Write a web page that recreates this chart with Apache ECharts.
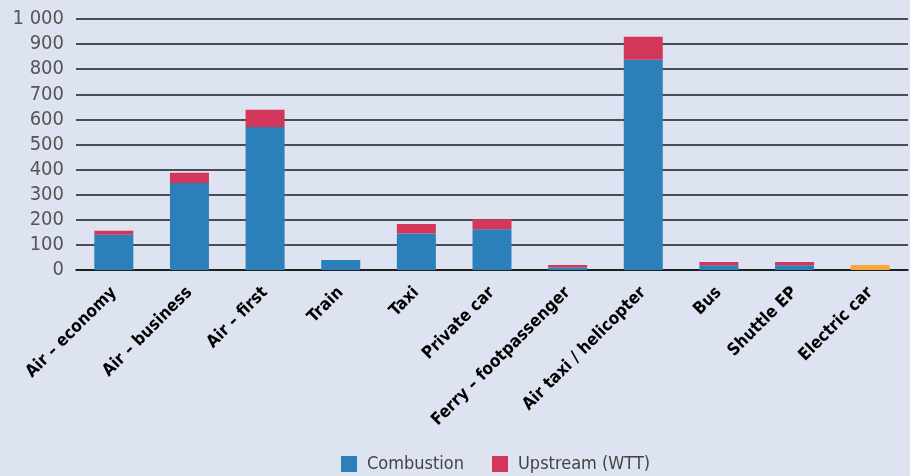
<!DOCTYPE html>
<html>
<head>
<meta charset="utf-8">
<script src="https://cdn.jsdelivr.net/npm/echarts@6/dist/echarts.min.js"></script>
<style>
  html, body { margin: 0; padding: 0; background: #dde3f0; }
  #mountNode { width: 910px; height: 476px; }
</style>
</head>
<body>
<div id="mountNode"></div>
<script>
// values
var categories = ['Air – economy', 'Air – business', 'Air – first', 'Train', 'Taxi', 'Private car',
  'Ferry – footpassenger', 'Air taxi / helicopter', 'Bus', 'Shuttle EP', 'Electric car'];
var combustion = [140, 347, 570, 40, 145, 162, 10, 838, 19, 19, 20];
var upstream = [16, 40, 68, 0, 38, 40, 10, 91, 13, 13, 0];
var seriesNames = ['Combustion', 'Upstream (WTT)'];
var yTicks = { min: 0, max: 1000, interval: 100 };

var BLUE = '#2c80b9', RED = '#d4365a', ORANGE = '#f5a836';

// electric car gets its own colour
var combustionData = combustion.map(function (v, i) {
  if (categories[i] === 'Electric car') {
    return { value: v, itemStyle: { color: ORANGE } };
  }
  return v;
});

var option = {
  backgroundColor: '#dde3f0',
  animation: false,
  grid: { left: 76, right: 2, top: 19, bottom: 206 },
  legend: {
    top: 450,
    left: 336,
    itemWidth: 16,
    itemHeight: 16,
    itemGap: 28,
    icon: 'rect',
    textStyle: { fontFamily: 'DejaVu Sans Condensed', fontSize: 18, color: '#444', padding: [0, 0, 0, 5] },
    data: seriesNames
  },
  xAxis: {
    type: 'category',
    data: categories,
    axisTick: { show: false },
    axisLine: { lineStyle: { color: '#111', width: 1.5 } },
    axisLabel: {
      interval: 0,
      rotate: 45,
      margin: 20,
      color: '#000',
      fontFamily: 'DejaVu Sans Condensed',
      fontWeight: 'bold',
      fontSize: 17
    }
  },
  yAxis: {
    type: 'value',
    min: yTicks.min,
    max: yTicks.max,
    interval: yTicks.interval,
    axisLine: { show: false },
    axisTick: { show: false },
    splitLine: { lineStyle: { color: '#1a1a1a', width: 1.5 } },
    axisLabel: {
      margin: 12,
      color: '#555',
      fontFamily: 'DejaVu Sans Condensed',
      fontSize: 20,
      formatter: function (v) {
        return String(v).replace(/\B(?=(\d{3})+(?!\d))/g, ' ');
      }
    }
  },
  series: [{
    name: seriesNames[0],
    type: 'bar',
    stack: 'total',
    barWidth: 39,
    itemStyle: { color: BLUE },
    data: combustionData
  }, {
    name: seriesNames[1],
    type: 'bar',
    stack: 'total',
    barWidth: 39,
    itemStyle: { color: RED },
    data: upstream
  }]
};

var myChart = echarts.init(document.getElementById('mountNode'));
myChart.setOption(option);
</script>
</body>
</html>
